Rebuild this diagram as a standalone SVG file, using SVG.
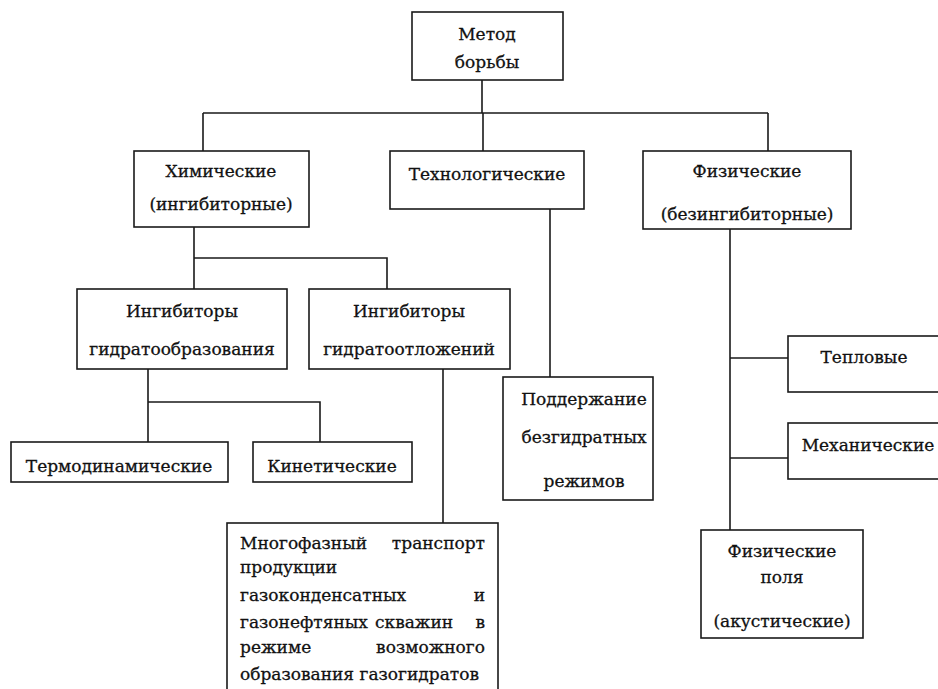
<svg xmlns="http://www.w3.org/2000/svg" width="938" height="689" viewBox="0 0 938 689">
<defs>
<style>
.box{fill:#fff;stroke:#1a1a1a;stroke-width:1.6}
.ln{fill:none;stroke:#1a1a1a;stroke-width:1.6}
.c{text-anchor:middle}
.r{text-anchor:end}
</style>
</defs>
<rect width="938" height="689" fill="#fff"/>
<g id="connectors">
<path class="ln" d="M482 80V113M203 113H768M203 113V151M483 113V151M768 113V151"/>
<path class="ln" d="M194 227V258H387V289M194 258V289"/>
<path class="ln" d="M148 369V402H320V442M148 402V442"/>
<path class="ln" d="M443 369V523"/>
<path class="ln" d="M550 209V377"/>
<path class="ln" d="M730 229V530M730 358H788M730 458H788"/>
</g>
<g style="font-family:'DejaVu Serif','Liberation Serif',serif;font-size:17px;fill:#111;stroke:#111;stroke-width:0.3">
<g id="n-metod"><rect class="box" x="412" y="12" width="151" height="68"/><text class="c" x="487" y="40">Метод</text><text class="c" x="487" y="68">борьбы</text></g>
<g id="n-chem"><rect class="box" x="134" y="151" width="175" height="76"/><text class="c" x="221" y="177">Химические</text><text class="c" x="221" y="210">(ингибиторные)</text></g>
<g id="n-tech"><rect class="box" x="390" y="151" width="194" height="58"/><text class="c" x="487" y="180">Технологические</text></g>
<g id="n-phys"><rect class="box" x="643" y="151" width="208" height="78"/><text class="c" x="747" y="177">Физические</text><text class="c" x="747" y="220">(безингибиторные)</text></g>
<g id="n-inh1"><rect class="box" x="77" y="289" width="210" height="80"/><text class="c" x="182" y="317">Ингибиторы</text><text class="c" x="182" y="355">гидратообразования</text></g>
<g id="n-inh2"><rect class="box" x="309" y="289" width="201" height="80"/><text class="c" x="409" y="317">Ингибиторы</text><text class="c" x="409" y="355">гидратоотложений</text></g>
<g id="n-thermo"><rect class="box" x="11" y="442" width="217" height="40"/><text class="c" x="119" y="472">Термодинамические</text></g>
<g id="n-kin"><rect class="box" x="253" y="442" width="159" height="40"/><text class="c" x="332" y="472">Кинетические</text></g>
<g id="n-support"><rect class="box" x="503" y="377" width="150" height="123"/><text class="c" x="584" y="405">Поддержание</text><text class="c" x="584" y="443">безгидратных</text><text class="c" x="584" y="487">режимов</text></g>
<g id="n-heat"><rect class="box" x="788" y="336" width="152" height="56"/><text class="c" x="864" y="363">Тепловые</text></g>
<g id="n-mech"><rect class="box" x="788" y="423" width="152" height="56"/><text class="c" x="868" y="451">Механические</text></g>
<g id="n-fields"><rect class="box" x="701" y="530" width="162" height="108"/><text class="c" x="782" y="557">Физические</text><text class="c" x="782" y="583">поля</text><text class="c" x="782" y="627">(акустические)</text></g>
<g id="n-multi"><rect class="box" x="227" y="523" width="271" height="180"/>
<text x="240" y="549">Многофазный</text><text class="r" x="485" y="549">транспорт</text>
<text x="240" y="573">продукции</text>
<text x="240" y="601">газоконденсатных</text><text class="r" x="485" y="601">и</text>
<text x="240" y="628">газонефтяных</text><text x="375" y="628">скважин</text><text class="r" x="485" y="628">в</text>
<text x="240" y="653">режиме</text><text class="r" x="485" y="653">возможного</text>
<text x="240" y="680">образования газогидратов</text>
</g>
</g>
</svg>
